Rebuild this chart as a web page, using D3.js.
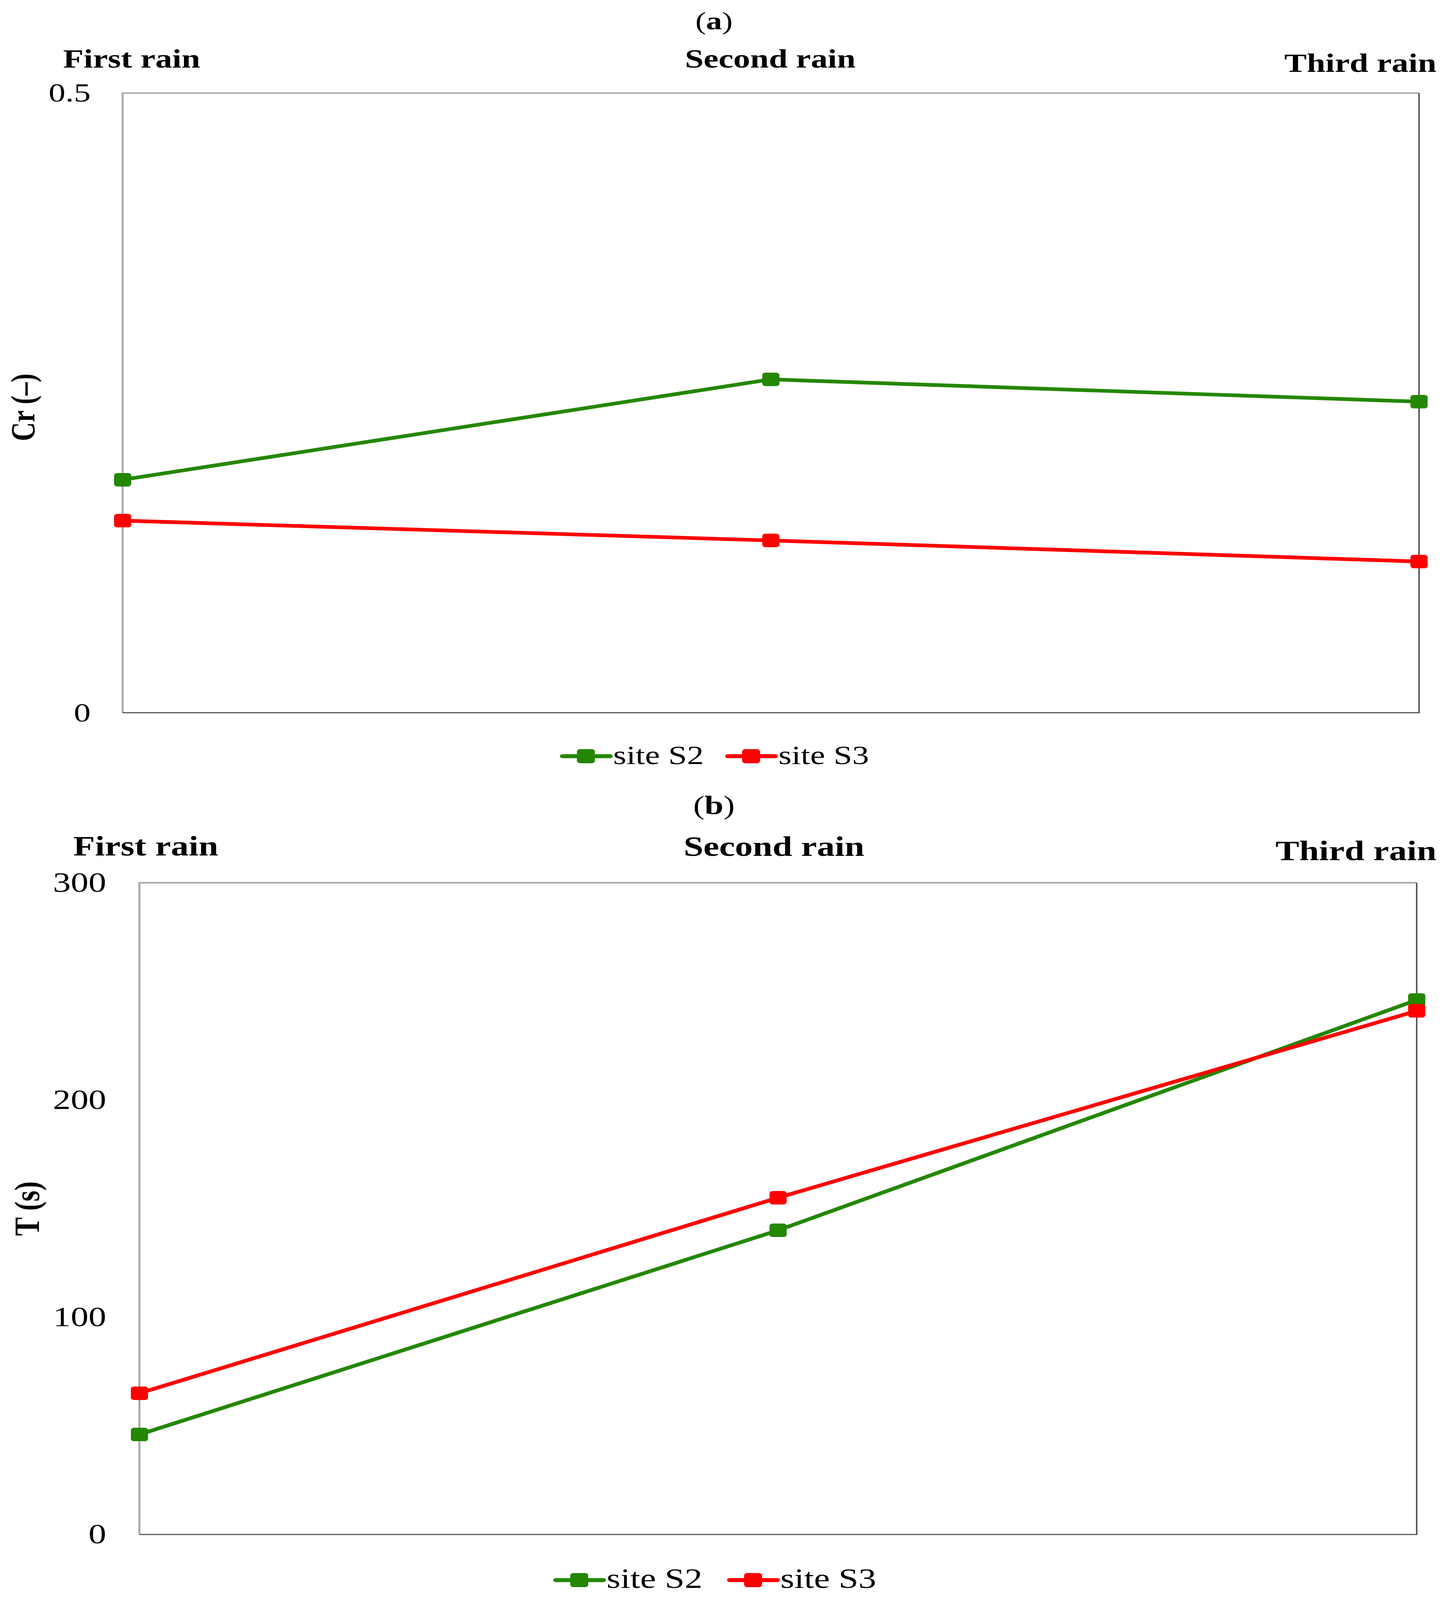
<!DOCTYPE html>
<html>
<head>
<meta charset="utf-8">
<script src="https://cdn.jsdelivr.net/npm/d3@7"></script>
<style>
  html, body { margin: 0; padding: 0; background: #fff; overflow: hidden; }
  svg { display: block; }
  text { font-family: "Liberation Serif", "Times New Roman", serif; fill: #000; }
</style>
</head>
<body>
<div id="chart"></div>
<script>
// data
var rains = ["First rain", "Second rain", "Third rain"];
var siteNames = ["site S2", "site S3"];
var siteColors = ["#248700", "#ff0000"];
var crS2 = [0.188, 0.269, 0.251];
var crS3 = [0.155, 0.139, 0.122];
var tS2 = [46, 140, 246];
var tS3 = [65, 155, 241];
var crTicks = [0, 0.5];
var tTicks = [0, 100, 200, 300];

// drawn in a 3702x5224 frame, stretched to whatever the window really is
var W = 3702, H = 5224;
var svg = d3.select("#chart").append("svg")
    .attr("viewBox", "0 0 " + W + " " + H)
    .attr("preserveAspectRatio", "none")
    .style("width", "100vw").style("height", "100vh");

function panel(p) {
  var x = d3.scalePoint().domain(rains).range([p.left, p.right]);
  var y = d3.scaleLinear().domain(p.domain).range([p.bottom, p.top]);
  var g = svg.append("g");

  // panel letter
  var t = g.append("text").attr("x", 1828).attr("y", p.titleY)
    .attr("text-anchor", "middle").attr("font-size", p.fs - 4);
  t.append("tspan").text("(");
  t.append("tspan").attr("font-weight", "bold").text(p.title);
  t.append("tspan").text(")");

  // rain labels across the top
  g.append("g")
    .attr("transform", "translate(0," + p.top + ")")
    .call(d3.axisTop(x).tickSize(0))
    .call(function(a) { a.select(".domain").remove(); })
    .selectAll("text")
    .attr("font-size", p.fs).attr("font-weight", "bold")
    .attr("font-family", "Liberation Serif")
    .attr("dy", null)
    .attr("y", function(d, i) { return p.catY[i] - p.top; })
    .attr("x", function(d, i) { return p.catDx[i]; })
    .attr("text-anchor", function(d, i) { return ["start", "middle", "end"][i]; });

  // y axis
  g.append("g")
    .attr("transform", "translate(" + p.left + ",0)")
    .call(d3.axisLeft(y).tickValues(p.ticks).tickSize(0).tickPadding(p.pad)
      .tickFormat(d3.format("")))
    .call(function(a) { a.select(".domain").remove(); })
    .selectAll("text")
    .attr("font-size", p.fs).attr("font-family", "Liberation Serif");

  g.append("text")
    .attr("transform", "translate(" + p.labelX + "," + p.labelY + ") rotate(-90)")
    .attr("text-anchor", "middle").attr("font-size", p.fs).attr("font-weight", "bold")
    .text(p.label);

  // frame
  g.append("path").attr("fill", "none").attr("stroke", "#a6a6a6").attr("stroke-width", 5)
    .attr("d", "M" + p.left + "," + p.bottom + "V" + p.top + "H" + p.right);
  g.append("path").attr("fill", "none").attr("stroke", "#5a5a5a").attr("stroke-width", 4)
    .attr("d", "M" + p.left + "," + p.bottom + "H" + p.right + "V" + p.top);

  var line = d3.line().x(function(d, i) { return x(rains[i]); }).y(function(d) { return y(d); });

  p.series.forEach(function(vals, k) {
    var s = g.append("g");
    s.append("path").datum(vals)
      .attr("fill", "none").attr("stroke", siteColors[k]).attr("stroke-width", 12)
      .attr("stroke-linejoin", "round").attr("d", line);
    s.selectAll("rect").data(vals).enter().append("rect")
      .attr("x", function(d, i) { return x(rains[i]) - 22; })
      .attr("y", function(d) { return y(d) - 22; })
      .attr("width", 44).attr("height", 44).attr("rx", 8)
      .attr("fill", siteColors[k]);
  });

  // legend
  siteNames.forEach(function(name, k) {
    var lx = p.legX[k];
    var lg = g.append("g");
    lg.append("line").attr("x1", lx - 60).attr("x2", lx + 62)
      .attr("y1", p.legY).attr("y2", p.legY)
      .attr("stroke", siteColors[k]).attr("stroke-width", 13).attr("stroke-linecap", "round");
    lg.append("rect").attr("x", lx - 23).attr("y", p.legY - 23)
      .attr("width", 46).attr("height", 46).attr("rx", 8).attr("fill", siteColors[k]);
    lg.append("text").attr("x", lx + 70).attr("y", p.legY + 26)
      .attr("font-size", p.fs).text(name);
  });
}

panel({
  title: "a", titleY: 96,
  left: 314, right: 3633, top: 304, bottom: 2327,
  domain: [0, 0.5], ticks: crTicks, pad: 82, fs: 86,
  catY: [220, 220, 235], catDx: [-153, -2, 44],
  label: "Cr (\u2013)", labelX: 88, labelY: 1330,
  series: [crS2, crS3],
  legX: [1500, 1923], legY: 2469
});

panel({
  title: "b", titleY: 2658,
  left: 357, right: 3627, top: 2882, bottom: 5010,
  domain: [0, 300], ticks: tTicks, pad: 85, fs: 91,
  catY: [2793, 2795, 2808], catDx: [-170, -11, 50],
  label: "T (s)", labelX: 100, labelY: 3946,
  series: [tS2, tS3],
  legX: [1483, 1928], legY: 5159
});
</script>
</body>
</html>
